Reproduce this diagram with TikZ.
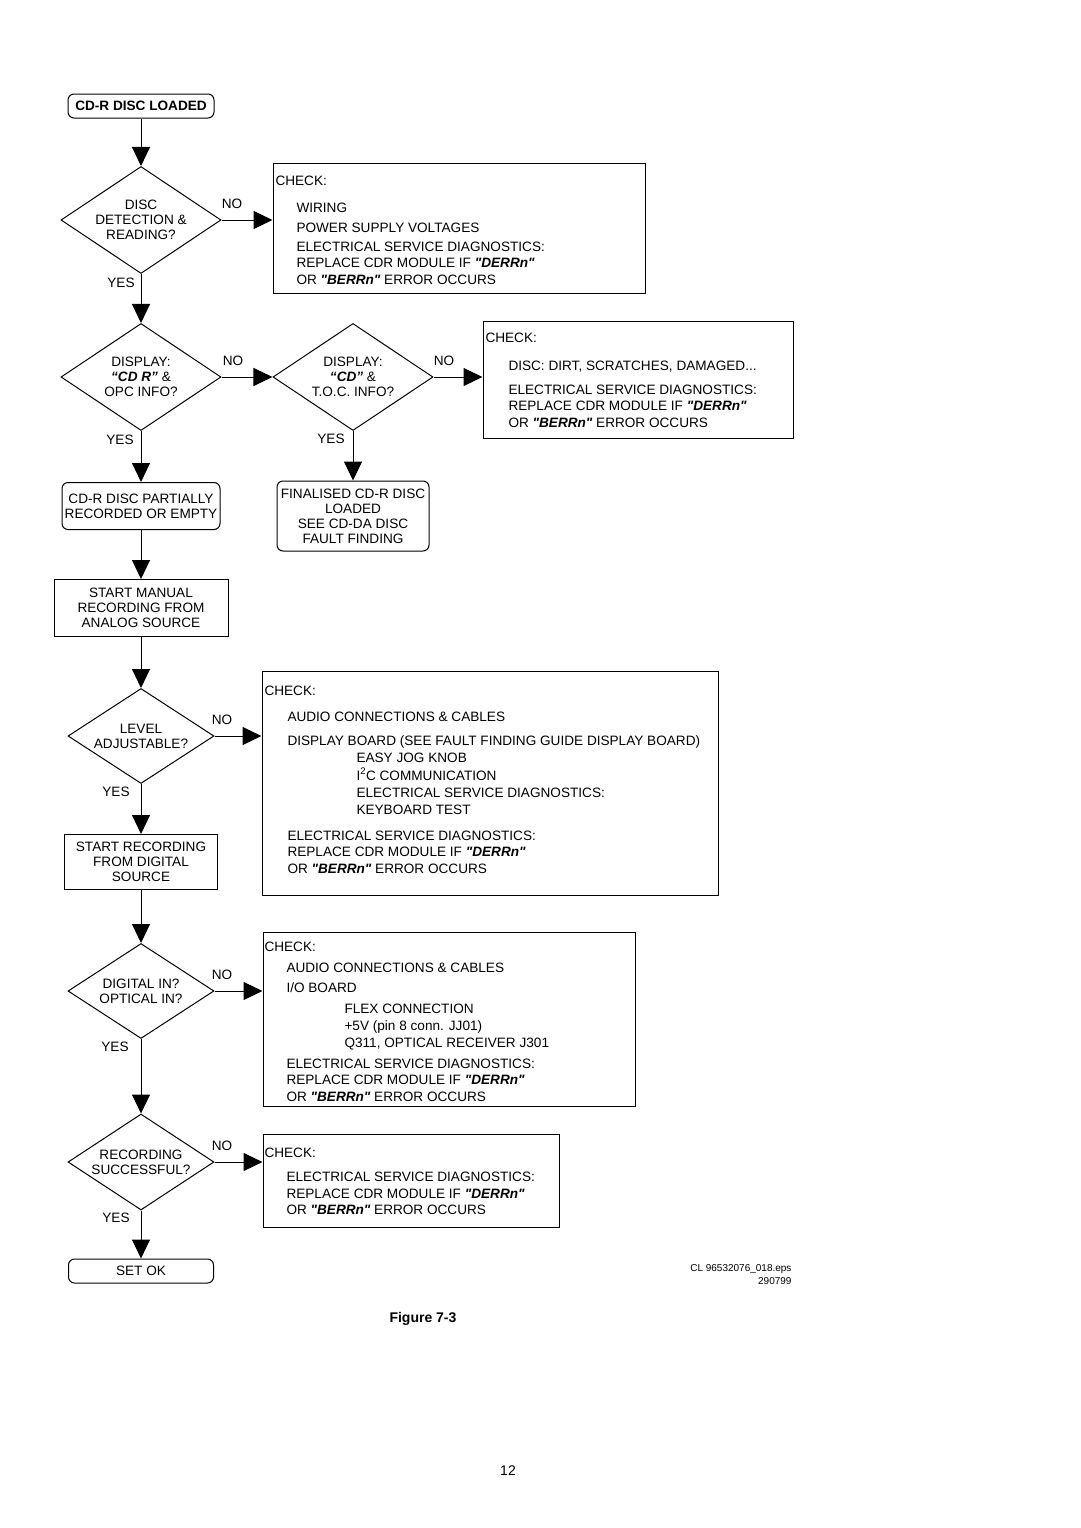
\documentclass[tikz,border=0pt]{standalone}
\usepackage{fontspec}
\setmainfont{Liberation Sans}
\newfontfamily\plainquotes{Liberation Sans}
\usetikzlibrary{shapes.geometric,arrows.meta}

\newcommand{\errcode}[1]{{\plainquotes\bfseries\itshape "#1"}}

\begin{document}
\begin{tikzpicture}[x=1pt,y=1pt,line width=1pt,
  every node/.style={inner sep=0pt,font=\fontsize{13.6}{15}\selectfont},
  decision/.style={diamond,draw,aspect=1.5,align=center,minimum width=160,minimum height=107},
  smalldecision/.style={decision,minimum width=146,minimum height=96},
  terminal/.style={draw,rounded corners=6pt,align=center},
  process/.style={draw,align=center},
  checkbox/.style={draw,rectangle},
  checkline/.style={anchor=base west},
  flow/.style={-{Triangle[width=18pt,length=19pt]}}]
\useasboundingbox (0,0) rectangle (1080,-1528);

% left column
\node[terminal,minimum width=146,minimum height=24,font=\bfseries\fontsize{13.6}{15}\selectfont] (start) at (141,-106) {CD-R DISC LOADED};
\node[decision] (d1) at (141,-220) {DISC\\DETECTION \&\\READING?};
\node[decision] (d2) at (141,-377) {DISPLAY:\\\textbf{\textit{``CD R''}} \&\\OPC INFO?};
\node[decision] (d3) at (353,-377) {DISPLAY:\\\textbf{\textit{``CD''}} \&\\T.O.C. INFO?};
\node[terminal,minimum width=158,minimum height=47] (part) at (141,-506) {CD-R DISC PARTIALLY\\RECORDED OR EMPTY};
\node[terminal,minimum width=152,minimum height=70] (fin) at (353,-516) {FINALISED CD-R DISC\\LOADED\\SEE CD-DA DISC\\FAULT FINDING};
\node[process,minimum width=174,minimum height=57] (manual) at (141,-608) {START MANUAL\\RECORDING FROM\\ANALOG SOURCE};
\node[smalldecision,minimum height=95] (d4) at (141,-736) {LEVEL\\ADJUSTABLE?};
\node[process,minimum width=153,minimum height=55] (digital) at (141,-862) {START RECORDING\\FROM DIGITAL\\SOURCE};
\node[smalldecision,minimum height=95] (d5) at (141,-991) {DIGITAL IN?\\OPTICAL IN?};
\node[smalldecision] (d6) at (141,-1162) {RECORDING\\SUCCESSFUL?};
\node[terminal,minimum width=145,minimum height=24] (setok) at (141,-1271) {SET OK};

% check boxes
\node[checkbox,minimum width=372,minimum height=130] (chk1) at (459,-228) {};
\node[checkline] (chk1a) at (275,-185) {CHECK:};
\node[checkline] (chk1b) at (296,-212) {WIRING};
\node[checkline] (chk1c) at (296,-232) {POWER SUPPLY VOLTAGES};
\node[checkline] (chk1d) at (296,-251) {ELECTRICAL SERVICE DIAGNOSTICS:};
\node[checkline] (chk1e) at (296,-267) {REPLACE CDR MODULE IF \errcode{DERRn}};
\node[checkline] (chk1f) at (296,-284) {OR \errcode{BERRn} ERROR OCCURS};

\node[checkbox,minimum width=310,minimum height=117] (chk2) at (638,-379.5) {};
\node[checkline] (chk2a) at (485,-342) {CHECK:};
\node[checkline] (chk2b) at (508,-370) {DISC: DIRT, SCRATCHES, DAMAGED...};
\node[checkline] (chk2c) at (508,-394) {ELECTRICAL SERVICE DIAGNOSTICS:};
\node[checkline] (chk2d) at (508,-410) {REPLACE CDR MODULE IF \errcode{DERRn}};
\node[checkline] (chk2e) at (508,-427) {OR \errcode{BERRn} ERROR OCCURS};

\node[checkbox,minimum width=456,minimum height=224] (chk3) at (490,-783) {};
\node[checkline] (chk3a) at (264,-695) {CHECK:};
\node[checkline] (chk3b) at (287,-721) {AUDIO CONNECTIONS \& CABLES};
\node[checkline] (chk3c) at (287,-745) {DISPLAY BOARD (SEE FAULT FINDING GUIDE DISPLAY BOARD)};
\node[checkline] (chk3d) at (356,-762) {EASY JOG KNOB};
\node[checkline] (chk3e) at (356,-780) {I\textsuperscript{2}C COMMUNICATION};
\node[checkline] (chk3f) at (356,-797) {ELECTRICAL SERVICE DIAGNOSTICS:};
\node[checkline] (chk3g) at (356,-814) {KEYBOARD TEST};
\node[checkline] (chk3h) at (287,-840) {ELECTRICAL SERVICE DIAGNOSTICS:};
\node[checkline] (chk3i) at (287,-856) {REPLACE CDR MODULE IF \errcode{DERRn}};
\node[checkline] (chk3j) at (287,-873) {OR \errcode{BERRn} ERROR OCCURS};

\node[checkbox,minimum width=372,minimum height=174] (chk4) at (449,-1019) {};
\node[checkline] (chk4a) at (264,-951) {CHECK:};
\node[checkline] (chk4b) at (286,-972) {AUDIO CONNECTIONS \& CABLES};
\node[checkline] (chk4c) at (286,-992) {I/O BOARD};
\node[checkline] (chk4d) at (344,-1013) {FLEX CONNECTION};
\node[checkline] (chk4e) at (344,-1030) {+5V (pin 8 conn. JJ01)};
\node[checkline] (chk4f) at (344,-1047) {Q311, OPTICAL RECEIVER J301};
\node[checkline] (chk4g) at (286,-1068) {ELECTRICAL SERVICE DIAGNOSTICS:};
\node[checkline] (chk4h) at (286,-1084) {REPLACE CDR MODULE IF \errcode{DERRn}};
\node[checkline] (chk4i) at (286,-1101) {OR \errcode{BERRn} ERROR OCCURS};

\node[checkbox,minimum width=296,minimum height=93] (chk5) at (411,-1180.5) {};
\node[checkline] (chk5a) at (264,-1157) {CHECK:};
\node[checkline] (chk5b) at (286,-1181) {ELECTRICAL SERVICE DIAGNOSTICS:};
\node[checkline] (chk5c) at (286,-1198) {REPLACE CDR MODULE IF \errcode{DERRn}};
\node[checkline] (chk5d) at (286,-1214) {OR \errcode{BERRn} ERROR OCCURS};

% yes / no labels
\node (no1) at (232,-204) {NO};
\node (no2) at (233,-361) {NO};
\node (no3) at (444,-361) {NO};
\node (no4) at (222,-720) {NO};
\node (no5) at (222,-975) {NO};
\node (no6) at (222,-1146) {NO};
\node (yes1) at (121,-283) {YES};
\node (yes2) at (120,-440) {YES};
\node (yes3) at (331,-439) {YES};
\node (yes4) at (116,-792) {YES};
\node (yes5) at (115,-1047) {YES};
\node (yes6) at (116,-1218) {YES};

% connectors
\draw[flow] (start) -- (d1);
\draw[flow] (d1) -- (d2);
\draw[flow] (d2) -- (part);
\draw[flow] (part) -- (manual);
\draw[flow] (manual) -- (d4);
\draw[flow] (d4) -- (digital);
\draw[flow] (digital) -- (d5);
\draw[flow] (d5) -- (d6);
\draw[flow] (d6) -- (setok);
\draw[flow] (d3) -- (fin);
\draw[flow] (d1.east) -- (d1.east -| chk1.west);
\draw[flow] (d2) -- (d3);
\draw[flow] (d3.east) -- (d3.east -| chk2.west);
\draw[flow] (d4.east) -- (d4.east -| chk3.west);
\draw[flow] (d5.east) -- (d5.east -| chk4.west);
\draw[flow] (d6.east) -- (d6.east -| chk5.west);

% footer
\node[anchor=base east,font=\fontsize{10}{12}\selectfont] (eps) at (792,-1271.5) {CL 96532076\_018.eps};
\node[anchor=base east,font=\fontsize{10}{12}\selectfont] (date) at (792,-1284.5) {290799};
\node[anchor=base,font=\bfseries\fontsize{14}{16}\selectfont] (fig) at (423,-1322) {Figure 7-3};
\node[anchor=base,font=\fontsize{14}{16}\selectfont] (page) at (508,-1475) {12};
\end{tikzpicture}
\end{document}
